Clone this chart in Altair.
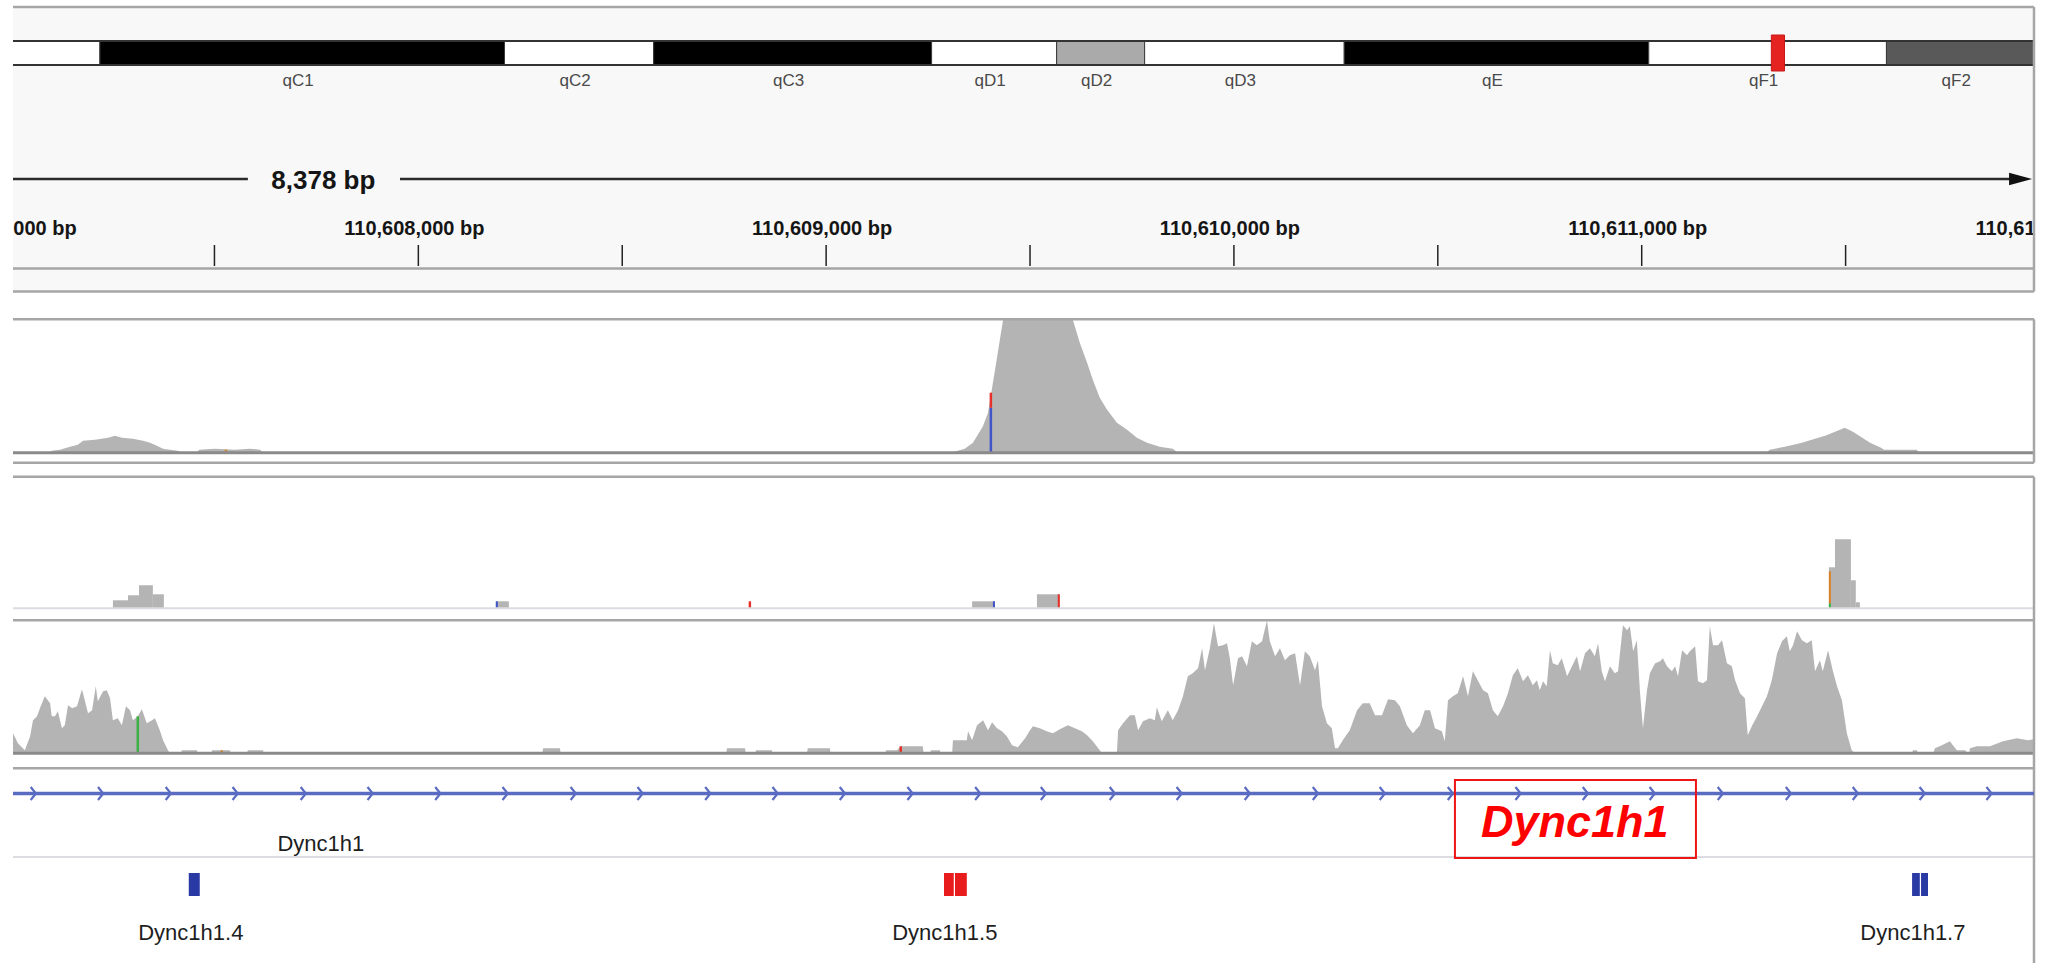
import altair as alt
import pandas as pd

W, H = 2021, 963

# ---------------- ideogram (chromosome 12, Mb) ----------------
band_names = ["qB3", "qC1", "qC2", "qC3", "qD1", "qD2", "qD3", "qE", "qF1", "qF2"]
band_start = [39.0, 48.04, 63.12, 68.68, 79.04, 83.70, 86.98, 94.42, 105.77, 114.63]
band_end = [48.04, 63.12, 68.68, 79.04, 83.70, 86.98, 94.42, 105.77, 114.63, 120.13]
band_color = ["#ffffff", "#000000", "#ffffff", "#000000", "#ffffff",
              "#aaaaaa", "#ffffff", "#000000", "#ffffff", "#595959"]
IDEO_DOMAIN = [44.8, 120.13]
marker_start = [110.34]
marker_end = [110.83]

# ---------------- ruler (bp after 110,607,000) ----------------
WIN_DOMAIN = [6, 4962]
ruler_ticks = [500, 1000, 1500, 2000, 2500, 3000, 3500, 4000, 4500]
ruler_label_pos = [0, 1000, 2000, 3000, 4000, 5000]
ruler_labels = ["110,607,000 bp", "110,608,000 bp", "110,609,000 bp",
                "110,610,000 bp", "110,611,000 bp", "110,612,000 bp"]
span_text = ["8,378 bp"]
span_text_pos = [767]
span_seg_start = [6, 955]
span_seg_end = [582, 4925]
span_arrow_pos = [4929]

# ---------------- coverage track 1 ----------------
cov1_pos = [97, 101, 121, 146, 165, 178, 207, 239, 256, 273, 300, 325, 342, 359, 374, 391, 410, 420,
            457, 462, 501, 550, 587, 612, 619,
            2304, 2323, 2340, 2360, 2384, 2397, 2409, 2419, 2426, 2434, 2605, 2622, 2640, 2654, 2671,
            2689, 2713, 2738, 2762, 2787, 2818, 2850, 2863,
            4305, 4314, 4351, 4393, 4425, 4450, 4474, 4498, 4518, 4537, 4560, 4587, 4594, 4675, 4680]
cov1_depth = [0, 2, 3, 6, 8, 12, 13, 15, 17, 15, 14, 12, 10, 7, 4, 3, 2, 0,
              0, 3, 4, 3, 4, 3, 0,
              0, 2, 4, 10, 26, 40, 70, 95, 113, 133, 133, 110, 90, 73, 55,
              43, 30, 23, 15, 10, 6, 4, 0,
              0, 3, 6, 10, 14, 17, 21, 25, 21, 16, 10, 5, 3, 3, 0]
cov1_var_pos = [2404, 2404, 528]
cov1_var_lo = [0, 45, 0]
cov1_var_hi = [45, 60, 3]
cov1_var_col = ["#3f55c8", "#e8302a", "#d9822b"]

# ---------------- coverage track 2 ----------------
cov2_start = [251, 288, 315, 349, 1190, 2358, 2517, 4459, 4474, 4513, 4525]
cov2_end = [288, 315, 349, 376, 1222, 2414, 2573, 4474, 4513, 4525, 4535]
cov2_depth = [8, 13, 23, 14, 7, 7, 14, 41, 69, 28, 6]
cov2_var_start = [1190, 1810, 2409, 2568, 4459, 4459]
cov2_var_end = [1195, 1816, 2414, 2573, 4464, 4464]
cov2_var_lo = [0, 0, 0, 0, 5, 0]
cov2_var_hi = [7, 7, 7, 14, 37, 5]
cov2_var_col = ["#3f55c8", "#e8302a", "#3f55c8", "#e8302a", "#d9822b", "#3cb043"]

# ---------------- coverage track 3 ----------------
cov3_pos = [6, 18, 35, 48, 55, 65, 72, 84, 97, 101, 109, 116, 126, 133, 141, 151, 163, 175, 182, 190,
            200, 209, 214, 227, 236, 244, 251, 263, 273, 283, 293, 300, 312, 322, 334, 347, 354, 366,
            374, 386, 391,
            418, 420, 457, 459, 492, 494, 538, 540, 580, 582, 619, 621,
            1304, 1306, 1347, 1349, 1755, 1757, 1801, 1803, 1826, 1828, 1867, 1869, 1953, 1955, 2009,
            2011, 2145, 2147, 2174, 2183, 2188, 2237, 2239, 2255, 2257, 2279, 2281,
            2309, 2311, 2345, 2348, 2358, 2370, 2385, 2397, 2407, 2419, 2431, 2443, 2456, 2470, 2488,
            2500, 2507, 2524, 2541, 2556, 2573, 2593, 2610, 2627, 2640, 2654, 2671, 2676, 2713, 2716,
            2728, 2745, 2757, 2765, 2777, 2794, 2806, 2811, 2823, 2838, 2850, 2863, 2875, 2887, 2899,
            2912, 2922, 2929, 2941, 2951, 2961, 2973, 2983, 2990, 2998, 3010, 3020, 3032, 3044, 3056,
            3069, 3081, 3088, 3101, 3113, 3125, 3137, 3150, 3162, 3174, 3186, 3199, 3206, 3216, 3228,
            3240, 3248, 3255, 3267, 3284, 3302, 3316, 3333, 3346, 3363, 3378, 3395, 3407, 3424, 3439,
            3456, 3468, 3481, 3493, 3510, 3517, 3525, 3537, 3549, 3562, 3574, 3586, 3598, 3611, 3623,
            3635, 3647, 3660, 3672, 3684, 3696, 3709, 3721, 3733, 3743, 3750, 3758, 3767, 3775, 3782,
            3794, 3804, 3817, 3829, 3841, 3849, 3861, 3873, 3885, 3893, 3902, 3910, 3922, 3934, 3942,
            3954, 3964, 3971, 3979, 3988, 3996, 4003, 4013, 4020, 4033, 4045, 4052, 4062, 4074, 4082,
            4089, 4099, 4111, 4118, 4131, 4138, 4150, 4160, 4167, 4175, 4187, 4197, 4209, 4221, 4229,
            4241, 4253, 4260, 4270, 4283, 4295, 4307, 4319, 4332, 4344, 4356, 4363, 4371, 4381, 4393,
            4405, 4417, 4425, 4437, 4444, 4457, 4469, 4479, 4491, 4503, 4515, 4523,
            4663, 4665, 4675, 4677, 4715, 4719, 4736, 4756, 4763, 4773, 4793, 4800, 4803, 4805, 4822,
            4854, 4886, 4920, 4947, 4962]
cov3_depth = [20, 10, 3, 17, 33, 37, 45, 57, 50, 37, 37, 42, 25, 28, 48, 45, 47, 64, 53, 40,
              43, 67, 52, 62, 63, 55, 33, 35, 28, 47, 43, 33, 37, 44, 30, 33, 35, 23,
              13, 3, 0,
              0, 3, 3, 0, 0, 3, 3, 0, 0, 3, 3, 0,
              0, 5, 5, 0, 0, 5, 5, 0, 0, 3, 3, 0, 0, 5, 5,
              0, 0, 3, 3, 7, 7, 7, 0, 0, 3, 3, 0,
              0, 13, 13, 22, 13, 28, 33, 23, 31, 25, 22, 17, 8, 6, 15,
              23, 27, 25, 22, 20, 24, 28, 25, 22, 18, 12, 3, 0, 0, 23,
              30, 38, 38, 23, 32, 35, 33, 46, 32, 43, 33, 43, 57, 77, 80,
              85, 105, 83, 105, 130, 107, 108, 110, 95, 68, 95, 97, 87, 112, 108,
              112, 133, 112, 97, 105, 93, 98, 100, 68, 102, 97, 83, 93, 47, 30,
              25, 5, 5, 13, 23, 43, 50, 50, 38, 38, 54, 53, 47, 28, 20,
              28, 43, 43, 25, 22, 12, 53, 57, 60, 77, 57, 82, 73, 63, 60,
              43, 37, 47, 60, 78, 85, 72, 78, 68, 73, 63, 72, 67, 103, 90,
              88, 95, 77, 87, 97, 82, 100, 105, 97, 110, 82, 72, 87, 80, 82,
              128, 123, 127, 102, 113, 60, 25, 63, 80, 90, 92, 95, 87, 82, 87,
              77, 103, 98, 102, 107, 72, 70, 73, 127, 108, 108, 113, 90, 87, 73,
              60, 55, 18, 27, 37, 47, 57, 73, 100, 112, 117, 102, 108, 122, 113,
              110, 113, 82, 93, 82, 103, 82, 67, 53, 20, 3, 0,
              0, 3, 3, 0, 0, 5, 8, 12, 8, 3, 3, 0, 0, 5, 7,
              7, 12, 15, 13, 14]
cov3_var_pos = [312, 518, 2183]
cov3_var_lo = [0, 0, 0]
cov3_var_hi = [37, 3, 7]
cov3_var_col = ["#3cb043", "#d9822b", "#e8302a"]

# ---------------- gene / transcripts ----------------
gene_start = [6]
gene_end = [4962]
gene_name = ["Dync1h1"]
gene_label_pos = [761]
chevron_pos = [55, 220, 386, 550, 717, 881, 1047, 1212, 1379, 1543, 1709, 1874, 2039, 2205, 2371,
               2532, 2701, 2865, 3032, 3199, 3363, 3530, 3696, 3861, 4025, 4192, 4359, 4523, 4687, 4851]
tx_start = [437, 2289, 2316, 4663, 4685]
tx_end = [464, 2313, 2345, 4682, 4702]
tx_color = ["#2a3aa5", "#e81c1c", "#e81c1c", "#2a3aa5", "#2a3aa5"]
tx_names = ["Dync1h1.4", "Dync1h1.5", "Dync1h1.7"]
tx_label_pos = [442, 2291, 4665]
highlight_start = [3542]
highlight_end = [4133]
highlight_text = ["Dync1h1"]
highlight_text_pos = [3836]

COV_GRAY = "#b4b4b4"
GENE_BLUE = "#5a6bc2"
FONT = "Liberation Sans"

T1 = ([452.7, 319.7], 133)
T2 = ([608.3, 477.3], 131)
T3 = ([753.3, 620.3], 133)


def xq(field, domain=WIN_DOMAIN):
    return alt.X(field, type="quantitative",
                 scale=alt.Scale(domain=domain, nice=False, zero=False), axis=None)


def yq(field, track):
    rng, dmax = track
    return alt.Y(field, type="quantitative",
                 scale=alt.Scale(domain=[0, dmax], range=rng, nice=False, zero=False, clamp=True),
                 axis=None)


def one():
    return pd.DataFrame({"a": [0]})


layers = []

# top panel background
layers.append(alt.Chart(one()).mark_rect(fill="#f8f8f8").encode(
    x=alt.value(0), x2=alt.value(W), y=alt.value(7), y2=alt.value(292)))

# ideogram bands
bands = pd.DataFrame({"name": band_names, "start": band_start, "end": band_end, "col": band_color})
layers.append(alt.Chart(bands).mark_rect(stroke="#3a3a3a", strokeWidth=1, clip=True).encode(
    x=xq("start", IDEO_DOMAIN), x2="end", y=alt.value(41), y2=alt.value(65),
    fill=alt.Fill("col:N", scale=None)))
layers.append(alt.Chart(pd.DataFrame({"y": [41, 65]})).mark_rule(color="#333333", strokeWidth=2).encode(
    y=alt.Y("y:Q", scale=None), x=alt.value(0), x2=alt.value(W)))
layers.append(alt.Chart(bands).transform_calculate(mid="(datum.start + datum.end) / 2").transform_filter(
    "datum.mid > %f" % IDEO_DOMAIN[0]).mark_text(
    clip=True, font=FONT, fontSize=17, color="#4a4a4a", baseline="alphabetic", dx=-4).encode(
    x=xq("mid:Q", IDEO_DOMAIN), y=alt.value(86), text="name:N"))
layers.append(alt.Chart(pd.DataFrame({"s": marker_start, "e": marker_end})).mark_rect(
    fill="#e52421", stroke="#c81818", strokeWidth=1).encode(
    x=xq("s", IDEO_DOMAIN), x2="e", y=alt.value(35), y2=alt.value(71)))

# ruler
layers.append(alt.Chart(pd.DataFrame({"s": span_seg_start, "e": span_seg_end})).mark_rule(
    color="#2a2a2a", strokeWidth=2.5).encode(x=xq("s"), x2="e", y=alt.value(179)))
layers.append(alt.Chart(pd.DataFrame({"pos": span_arrow_pos})).mark_point(
    shape="M-1,-0.55L1,0L-1,0.55Z", filled=True, color="#111111", size=529, opacity=1).encode(
    x=xq("pos"), y=alt.value(179)))
layers.append(alt.Chart(pd.DataFrame({"pos": span_text_pos, "t": span_text})).mark_text(
    font=FONT, fontSize=26, fontWeight="bold", color="#151515", baseline="alphabetic").encode(
    x=xq("pos"), y=alt.value(189), text="t:N"))
layers.append(alt.Chart(pd.DataFrame({"pos": ruler_ticks})).mark_rule(
    color="#222222", strokeWidth=1.5).encode(x=xq("pos"), y=alt.value(245), y2=alt.value(266)))
layers.append(alt.Chart(pd.DataFrame({"pos": ruler_label_pos, "t": ruler_labels})).mark_text(
    clip=True, font=FONT, fontSize=20, fontWeight="bold", color="#151515", baseline="alphabetic",
    dx=-4).encode(x=xq("pos"), y=alt.value(235), text="t:N"))

# coverage track 1
c1 = pd.DataFrame({"pos": cov1_pos, "depth": cov1_depth})
c1["base"] = 0
layers.append(alt.Chart(c1).mark_area(color=COV_GRAY, interpolate="linear").encode(
    x=xq("pos"), y=yq("depth", T1), y2="base"))
layers.append(alt.Chart(pd.DataFrame({"pos": cov1_var_pos, "lo": cov1_var_lo, "hi": cov1_var_hi,
                                      "c": cov1_var_col})).mark_rule(strokeWidth=2.5).encode(
    x=xq("pos"), y=yq("lo", T1), y2="hi", color=alt.Color("c:N", scale=None)))

# coverage track 2
c2 = pd.DataFrame({"start": cov2_start, "end": cov2_end, "depth": cov2_depth})
c2["base"] = 0
layers.append(alt.Chart(c2).mark_rect(color=COV_GRAY).encode(
    x=xq("start"), x2="end", y=yq("depth", T2), y2="base"))
layers.append(alt.Chart(pd.DataFrame({"start": cov2_var_start, "end": cov2_var_end, "lo": cov2_var_lo,
                                      "hi": cov2_var_hi, "c": cov2_var_col})).mark_rect().encode(
    x=xq("start"), x2="end", y=yq("lo", T2), y2="hi", color=alt.Color("c:N", scale=None)))

# coverage track 3
c3 = pd.DataFrame({"pos": cov3_pos, "depth": cov3_depth})
c3["base"] = 0
layers.append(alt.Chart(c3).mark_area(color=COV_GRAY, interpolate="linear").encode(
    x=xq("pos"), y=yq("depth", T3), y2="base"))
layers.append(alt.Chart(pd.DataFrame({"pos": cov3_var_pos, "lo": cov3_var_lo, "hi": cov3_var_hi,
                                      "c": cov3_var_col})).mark_rule(strokeWidth=2.5).encode(
    x=xq("pos"), y=yq("lo", T3), y2="hi", color=alt.Color("c:N", scale=None)))

# frame lines
layers.append(alt.Chart(pd.DataFrame({"y": [7, 268.5, 291.5, 319.3, 462.7, 476.7, 620.3, 768.3]})).mark_rule(
    color="#a6a6a6", strokeWidth=2.5).encode(y=alt.Y("y:Q", scale=None), x=alt.value(0), x2=alt.value(W)))
layers.append(alt.Chart(pd.DataFrame({"y": [452.7, 753.3]})).mark_rule(
    color="#8a8a8a", strokeWidth=3).encode(y=alt.Y("y:Q", scale=None), x=alt.value(0), x2=alt.value(W)))
layers.append(alt.Chart(pd.DataFrame({"y": [608.3, 857]})).mark_rule(
    color="#dcdce2", strokeWidth=2).encode(y=alt.Y("y:Q", scale=None), x=alt.value(0), x2=alt.value(W)))
layers.append(alt.Chart(pd.DataFrame({"y1": [7, 319.3, 476.7], "y2": [291.5, 462.7, 963]})).mark_rule(
    color="#a6a6a6", strokeWidth=2.5).encode(
    x=alt.value(W), y=alt.Y("y1:Q", scale=None), y2="y2"))

# gene track
layers.append(alt.Chart(pd.DataFrame({"s": gene_start, "e": gene_end})).mark_rule(
    color=GENE_BLUE, strokeWidth=3.5).encode(x=xq("s"), x2="e", y=alt.value(793.5)))
layers.append(alt.Chart(pd.DataFrame({"pos": chevron_pos})).mark_point(
    shape="M-0.35,-1L0.45,0L-0.35,1", filled=False, color=GENE_BLUE, strokeWidth=2.2,
    size=170, opacity=1).encode(x=xq("pos"), y=alt.value(793.5)))
layers.append(alt.Chart(pd.DataFrame({"pos": gene_label_pos, "t": gene_name})).mark_text(
    font=FONT, fontSize=22, color="#1e1e1e", baseline="alphabetic").encode(
    x=xq("pos"), y=alt.value(851), text="t:N"))

# highlight annotation
layers.append(alt.Chart(pd.DataFrame({"s": highlight_start, "e": highlight_end})).mark_rect(
    fillOpacity=0, stroke="#ee1515", strokeWidth=2).encode(
    x=xq("s"), x2="e", y=alt.value(780), y2=alt.value(858)))
layers.append(alt.Chart(pd.DataFrame({"pos": highlight_text_pos, "t": highlight_text})).mark_text(
    font=FONT, fontSize=45, fontWeight="bold", fontStyle="italic", color="#ff0000",
    baseline="alphabetic").encode(x=xq("pos"), y=alt.value(837), text="t:N"))

# transcripts
layers.append(alt.Chart(pd.DataFrame({"s": tx_start, "e": tx_end, "c": tx_color})).mark_rect().encode(
    x=xq("s"), x2="e", y=alt.value(873), y2=alt.value(896), color=alt.Color("c:N", scale=None)))
layers.append(alt.Chart(pd.DataFrame({"pos": tx_label_pos, "t": tx_names})).mark_text(
    font=FONT, fontSize=22, color="#1e1e1e", baseline="alphabetic").encode(
    x=xq("pos"), y=alt.value(940), text="t:N"))

chart = alt.layer(*layers).resolve_scale(x="independent", y="independent").properties(
    width=W, height=H,
    padding={"left": 13, "top": 0, "right": 23, "bottom": 0},
    autosize=alt.AutoSizeParams(type="none"),
    background="white",
).configure_view(stroke=None)

chart.save("out.html", embed_options={"renderer": "svg", "actions": False})
